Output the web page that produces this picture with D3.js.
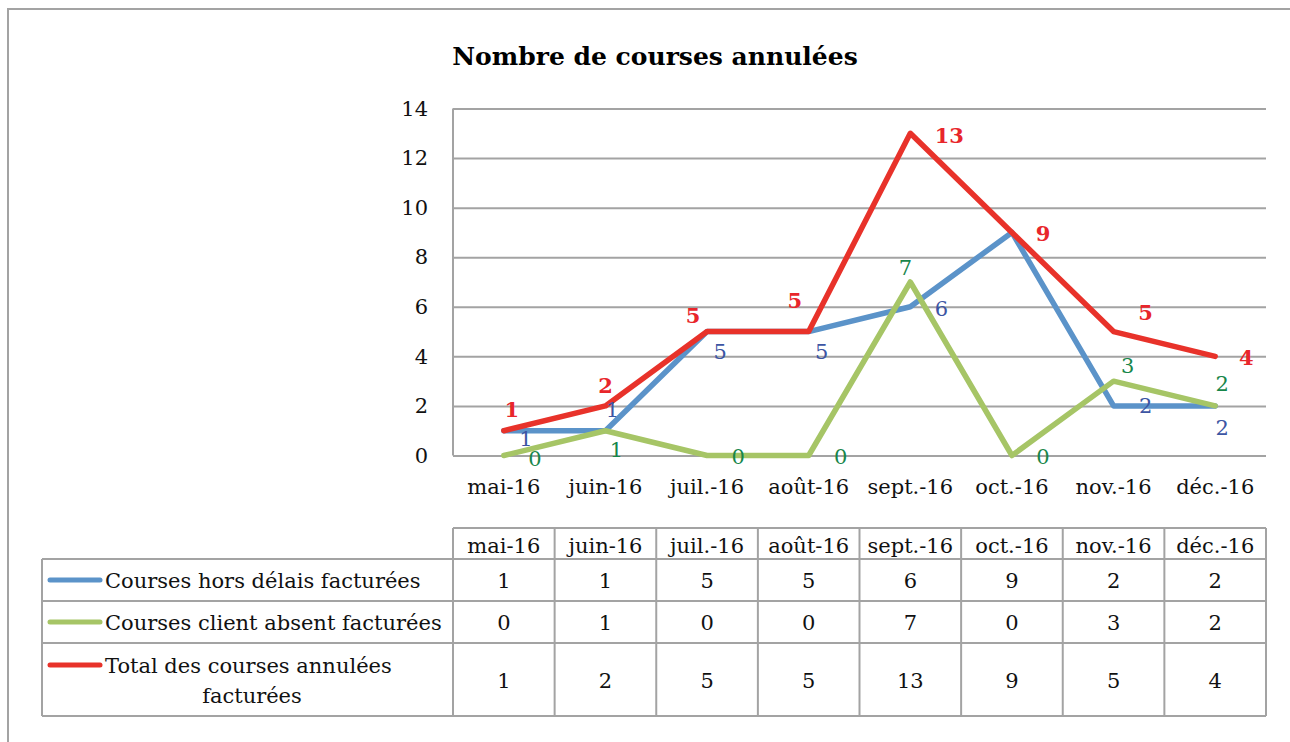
<!DOCTYPE html>
<html>
<head>
<meta charset="utf-8">
<script src="https://cdn.jsdelivr.net/npm/d3@7"></script>
<style>
  body { margin: 0; background: #fff; }
  svg { display: block; font-family: 'DejaVu Serif', serif; }
</style>
</head>
<body>
<div id="chart"></div>
<script>
// données du graphique
const months = ['mai-16', 'juin-16', 'juil.-16', 'août-16', 'sept.-16', 'oct.-16', 'nov.-16', 'déc.-16'];
const horsDelais = [1, 1, 5, 5, 6, 9, 2, 2];
const clientAbsent = [0, 1, 0, 0, 7, 0, 3, 2];
const totalAnnulees = [1, 2, 5, 5, 13, 9, 5, 4];
const yTicks = [0, 2, 4, 6, 8, 10, 12, 14];
const seriesNames = ['Courses hors délais facturées', 'Courses client absent facturées', 'Total des courses annulées facturées'];

// placement des étiquettes (décalage en px par rapport au point), null = masquée
const labelOffsets = [
  [[22, 8], [7, -21], [13, 20], [13, 20], [31, 2], null, [32, 0], [7, 22]],
  [[31, 3], [11, 19], [31, 1], [32, 1], [-5, -14], [31, 1], [14, -15], [7, -22]],
  [[8, -21], [0, -20], [-14, -16], [-14, -31], [39, 2], [31, 1], [32, -19], [31, 1]],
];

const series = [
  { name: seriesNames[0], values: horsDelais, line: '#5b93c9', label: '#3c55a3', bold: false },
  { name: seriesNames[1], values: clientAbsent, line: '#a6c566', label: '#17864a', bold: false },
  { name: seriesNames[2], values: totalAnnulees, line: '#e8322a', label: '#e8262b', bold: true },
];

const width = 1290;
const height = 742;
const plot = { left: 453, right: 1266, top: 108.5, bottom: 455.5 };
const table = { left: 42, headTop: 528, rows: [559, 601, 643, 716] };
const grey = '#a3a3a3';
const fs = 21;

const svg = d3.select('#chart').append('svg')
  .attr('width', width)
  .attr('height', height)
  .attr('viewBox', `0 0 ${width} ${height}`);

// cadre du graphique
svg.append('rect')
  .attr('x', 8).attr('y', 9)
  .attr('width', 1400).attr('height', 900)
  .attr('fill', '#fff')
  .attr('stroke', grey).attr('stroke-width', 2);

const x = d3.scaleBand().domain(months).range([plot.left, plot.right]).padding(0);
const y = d3.scaleLinear().domain([0, 14]).range([plot.bottom, plot.top]);
const cx = (m) => x(m) + x.bandwidth() / 2;

// titre
svg.append('text')
  .attr('x', 655).attr('y', 56)
  .attr('text-anchor', 'middle').attr('dominant-baseline', 'central')
  .style('font-size', '25px').style('font-weight', 'bold')
  .text('Nombre de courses annulées');

// axe y + quadrillage
svg.append('g')
  .attr('transform', `translate(${plot.left}, 0)`)
  .call(d3.axisLeft(y).tickValues(yTicks).tickSize(-(plot.right - plot.left)).tickPadding(25))
  .call((g) => g.select('.domain').remove())
  .call((g) => g.selectAll('line').attr('stroke', grey).attr('stroke-width', 2))
  .call((g) => g.selectAll('text').style('font-size', fs + 'px').attr('fill', '#111').attr('font-family', 'DejaVu Serif'));

svg.append('line')
  .attr('x1', plot.left).attr('x2', plot.left)
  .attr('y1', plot.top).attr('y2', plot.bottom)
  .attr('stroke', grey).attr('stroke-width', 2);

// axe x
svg.append('g')
  .attr('transform', `translate(0, ${plot.bottom})`)
  .call(d3.axisBottom(x).tickSize(0).tickPadding(24))
  .call((g) => g.select('.domain').remove())
  .call((g) => g.selectAll('text').style('font-size', fs + 'px').attr('fill', '#111').attr('font-family', 'DejaVu Serif'));

// courbes
const line = d3.line().x((d, i) => cx(months[i])).y((d) => y(d));
svg.append('g').selectAll('path')
  .data(series)
  .enter()
  .append('path')
  .attr('d', (s) => line(s.values))
  .attr('fill', 'none')
  .attr('stroke', (s) => s.line)
  .attr('stroke-width', 5.5)
  .attr('stroke-linejoin', 'round')
  .attr('stroke-linecap', 'round');

// étiquettes de données
series.forEach((s, si) => {
  svg.append('g').selectAll('text')
    .data(s.values.map((v, i) => ({ v, i, off: labelOffsets[si][i] })).filter((d) => d.off))
    .enter()
    .append('text')
    .attr('x', (d) => cx(months[d.i]) + d.off[0])
    .attr('y', (d) => y(d.v) + d.off[1])
    .attr('text-anchor', 'middle').attr('dominant-baseline', 'central')
    .style('font-size', fs + 'px')
    .style('font-weight', s.bold ? 'bold' : 'normal')
    .attr('fill', s.label)
    .text((d) => d.v);
});

// table de données
const tg = svg.append('g');
const rows = table.rows;
const lineAttrs = (sel) => sel.attr('stroke', grey).attr('stroke-width', 2);

// lignes horizontales
tg.append('line').attr('x1', plot.left).attr('x2', plot.right).attr('y1', table.headTop).attr('y2', table.headTop).call(lineAttrs);
rows.forEach((ry) => {
  tg.append('line').attr('x1', table.left).attr('x2', plot.right).attr('y1', ry).attr('y2', ry).call(lineAttrs);
});
// lignes verticales
tg.append('line').attr('x1', table.left).attr('x2', table.left).attr('y1', rows[0]).attr('y2', rows[3]).call(lineAttrs);
months.forEach((m) => {
  tg.append('line').attr('x1', x(m)).attr('x2', x(m)).attr('y1', table.headTop).attr('y2', rows[3]).call(lineAttrs);
});
tg.append('line').attr('x1', plot.right).attr('x2', plot.right).attr('y1', table.headTop).attr('y2', rows[3]).call(lineAttrs);

// en-têtes
tg.selectAll('.head')
  .data(months)
  .enter()
  .append('text')
  .attr('x', (m) => cx(m))
  .attr('y', (table.headTop + rows[0]) / 2 + 2)
  .attr('text-anchor', 'middle').attr('dominant-baseline', 'central')
  .style('font-size', fs + 'px').attr('fill', '#111')
  .text((m) => m);

// valeurs + légende
series.forEach((s, si) => {
  const top = rows[si];
  const bot = rows[si + 1];
  const mid = (top + bot) / 2;
  tg.append('g').selectAll('text')
    .data(s.values)
    .enter()
    .append('text')
    .attr('x', (d, i) => cx(months[i]))
    .attr('y', mid + 1)
    .attr('text-anchor', 'middle').attr('dominant-baseline', 'central')
    .style('font-size', fs + 'px').attr('fill', '#111')
    .text((d) => d);

  const keyY = si < 2 ? mid : top + 22;
  tg.append('line')
    .attr('x1', 50).attr('x2', 100)
    .attr('y1', keyY).attr('y2', keyY)
    .attr('stroke', s.line).attr('stroke-width', 5).attr('stroke-linecap', 'round');

  if (si < 2) {
    tg.append('text')
      .attr('x', 105).attr('y', mid + 1)
      .attr('dominant-baseline', 'central')
      .style('font-size', fs + 'px').attr('fill', '#111')
      .text(s.name);
  } else {
    tg.append('text')
      .attr('x', 105).attr('y', top + 23)
      .attr('dominant-baseline', 'central')
      .style('font-size', fs + 'px').attr('fill', '#111')
      .text('Total des courses annulées');
    tg.append('text')
      .attr('x', 252).attr('y', top + 53)
      .attr('text-anchor', 'middle').attr('dominant-baseline', 'central')
      .style('font-size', fs + 'px').attr('fill', '#111')
      .text('facturées');
  }
});
</script>
</body>
</html>
